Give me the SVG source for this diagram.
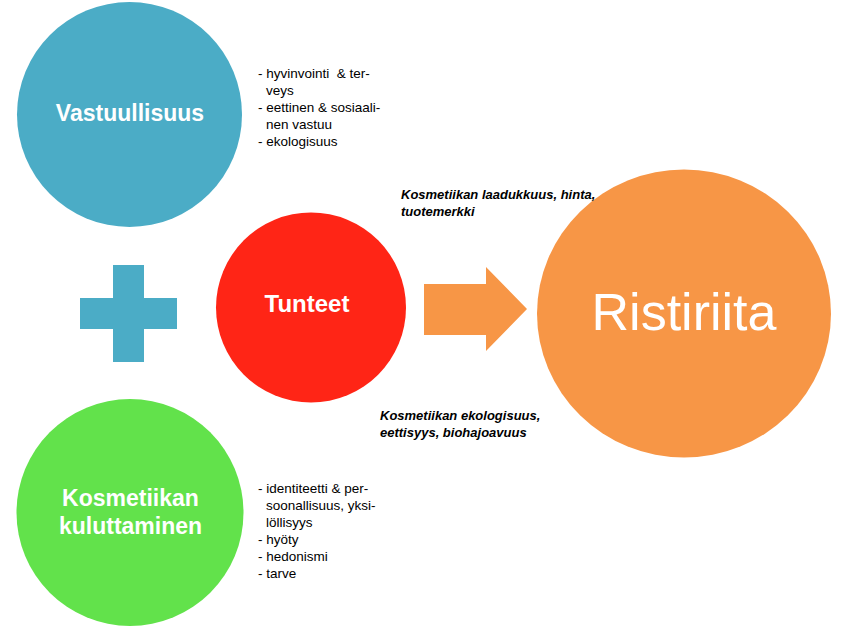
<svg xmlns="http://www.w3.org/2000/svg" width="843" height="629" viewBox="0 0 843 629">
<style>
.node-label{font-family:"Liberation Sans",Arial,sans-serif;font-weight:bold;fill:#fff;text-anchor:middle}
.bullets{font-family:"Liberation Sans",Arial,sans-serif;font-size:13.5px;fill:#000}
.note{font-family:"Liberation Sans",Arial,sans-serif;font-size:13px;font-weight:bold;font-style:italic;fill:#000}
</style>
<rect width="843" height="629" fill="#fff"/>
<g id="vastuullisuus">
<circle cx="129.5" cy="114.5" r="112.5" fill="#4BACC6"/>
<text class="node-label" x="130" y="121" font-size="23">Vastuullisuus</text>
</g>
<g id="vastuullisuus-list" class="bullets">
<text x="258" y="78">- hyvinvointi&#160; &amp; ter-</text>
<text x="266" y="95">veys</text>
<text x="258" y="112">- eettinen &amp; sosiaali-</text>
<text x="266" y="129">nen vastuu</text>
<text x="258" y="146">- ekologisuus</text>
</g>
<g id="plus">
<path d="M113,265 H144 V298 H177 V329 H144 V362 H113 V329 H80 V298 H113 Z" fill="#4BACC6"/>
</g>
<g id="tunteet">
<circle cx="311" cy="307.5" r="95" fill="#FF2516"/>
<text class="node-label" x="307" y="312" font-size="24">Tunteet</text>
</g>
<g id="kuluttaminen">
<circle cx="130" cy="512.5" r="113.5" fill="#62E24B"/>
<text class="node-label" x="130.5" y="506" font-size="23">Kosmetiikan</text>
<text class="node-label" x="130.5" y="534" font-size="23">kuluttaminen</text>
</g>
<g id="kuluttaminen-list" class="bullets">
<text x="258" y="493">- identiteetti &amp; per-</text>
<text x="266" y="510">soonallisuus, yksi-</text>
<text x="266" y="527">löllisyys</text>
<text x="258" y="544">- hyöty</text>
<text x="258" y="561">- hedonismi</text>
<text x="258" y="578">- tarve</text>
</g>
<g id="connectors">
<polygon points="424,284 486,284 486,267 527,309 486,351 486,335 424,335" fill="#F79646"/>
</g>
<g id="ristiriita">
<ellipse cx="684" cy="313.5" rx="147" ry="144" fill="#F79646"/>
<text x="684" y="330" font-family="Liberation Sans, Arial, sans-serif" font-size="52" fill="#fff" text-anchor="middle">Ristiriita</text>
</g>
<g id="note-top" class="note">
<text x="401" y="199">Kosmetiikan laadukkuus, hinta,</text>
<text x="401" y="216">tuotemerkki</text>
</g>
<g id="note-bottom" class="note">
<text x="380" y="420">Kosmetiikan ekologisuus,</text>
<text x="380" y="437">eettisyys, biohajoavuus</text>
</g>
</svg>
